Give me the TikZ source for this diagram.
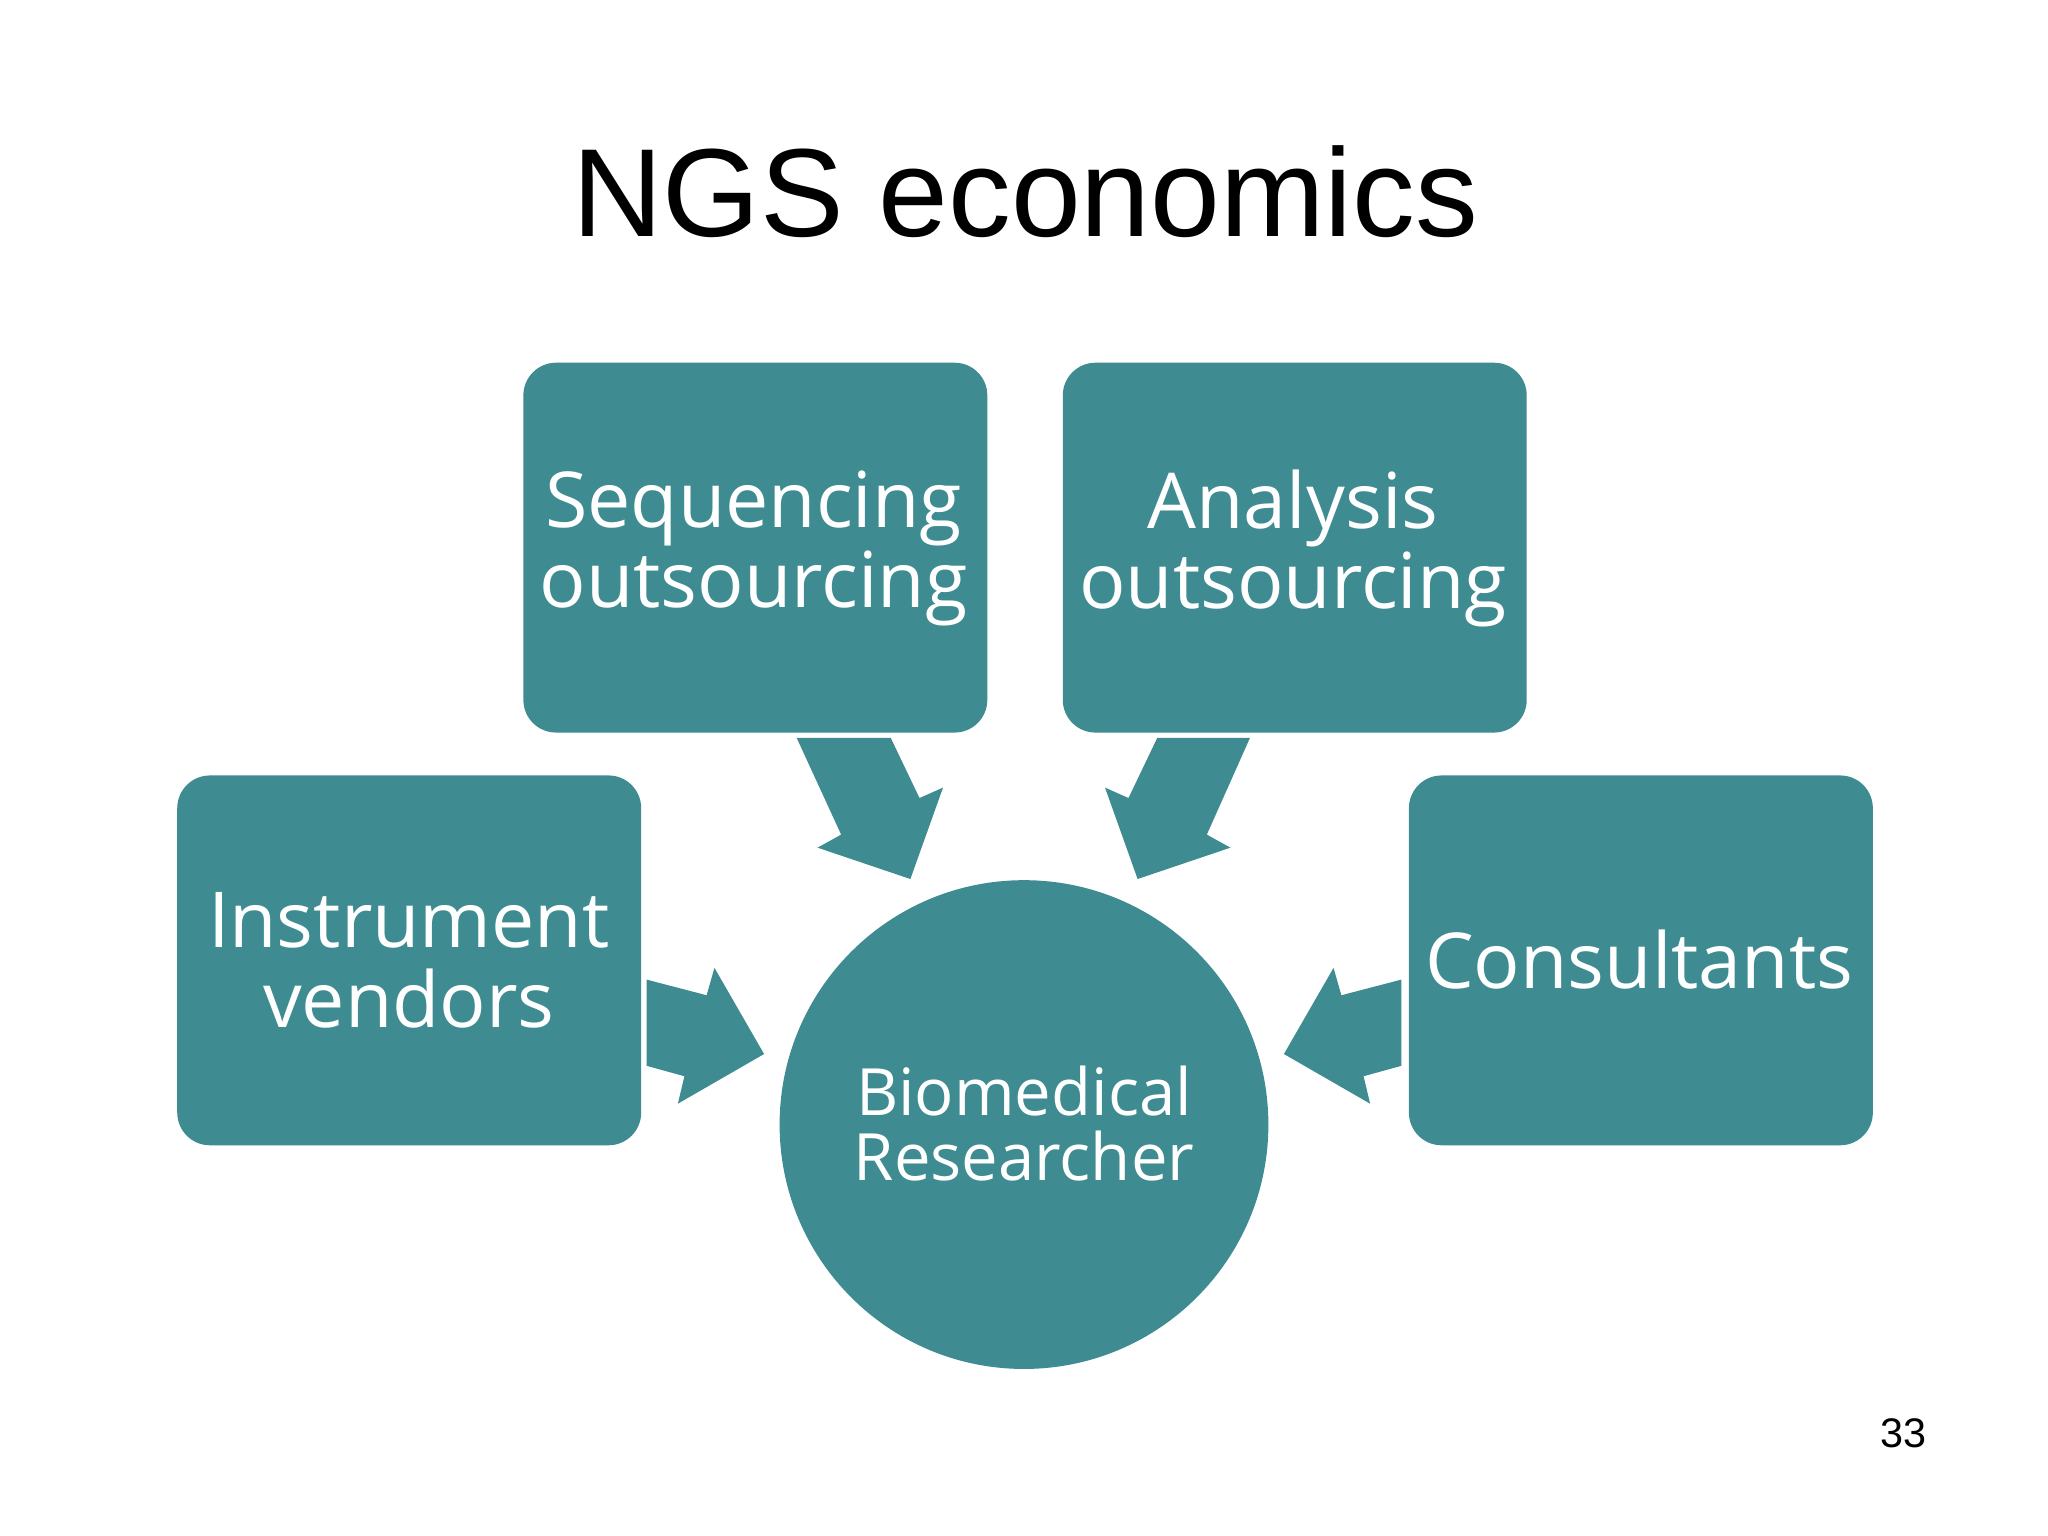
\documentclass[tikz,border=0pt]{standalone}
\usepackage{fontspec}
\setmainfont{Liberation Sans}
\newfontfamily\boxfont{Open Sans}
\definecolor{teal1}{HTML}{3E8C91}
\begin{document}
\begin{tikzpicture}[x=0.01cm,y=-0.01cm,
  box/.style={fill=teal1,rounded corners=0.25cm,minimum width=3.55cm,minimum height=2.83cm,inner sep=0},
  lbl/.style={text=white,font=\boxfont\fontsize{16.8}{17.4}\selectfont,align=center,inner sep=0},
  blk/.style={fill=teal1}]
\useasboundingbox (0,0) rectangle (1568,1176);
\node[font=\fontsize{27.3}{30}\selectfont] (title) at (785,147) {NGS economics};
\node[box,anchor=north west] (seq) at (400,277) {};
\node[lbl] (seqt) at (577,420) {Sequencing\\outsourcing};
\node[box,anchor=north west] (ana) at (813,277) {};
\node[lbl] (anat) at (990,420) {Analysis\\outsourcing};
\node[box,anchor=north west] (ins) at (135,593) {};
\node[lbl] (inst) at (313,735) {Instrument\\vendors};
\node[box,anchor=north west] (con) at (1078,593) {};
\node[lbl] (cont) at (1255,735) {Consultants};
\node[circle,fill=teal1,minimum size=3.74cm,inner sep=0] (bio) at (784,861) {};
\node[lbl,font=\boxfont\fontsize{14.2}{14.2}\selectfont] (biot) at (784,860) {Biomedical\\Researcher};
\fill[blk] (610,565)--(682,565)--(704,611)--(722,603)--(697,673)--(626,649)--(644,639)--cycle;
\fill[blk] (957,565)--(886,565)--(864,611)--(846,603)--(871,673)--(942,649)--(924,639)--cycle;
\fill[blk] (495,750)--(541,762)--(547,741)--(585,807)--(519,845)--(524,824)--(495,816)--cycle;
\fill[blk] (1073,750)--(1027,762)--(1021,741)--(983,807)--(1049,845)--(1044,824)--(1073,816)--cycle;
\node[font=\fontsize{9}{10}\selectfont] (pg) at (1457,1097) {33};
\end{tikzpicture}
\end{document}
